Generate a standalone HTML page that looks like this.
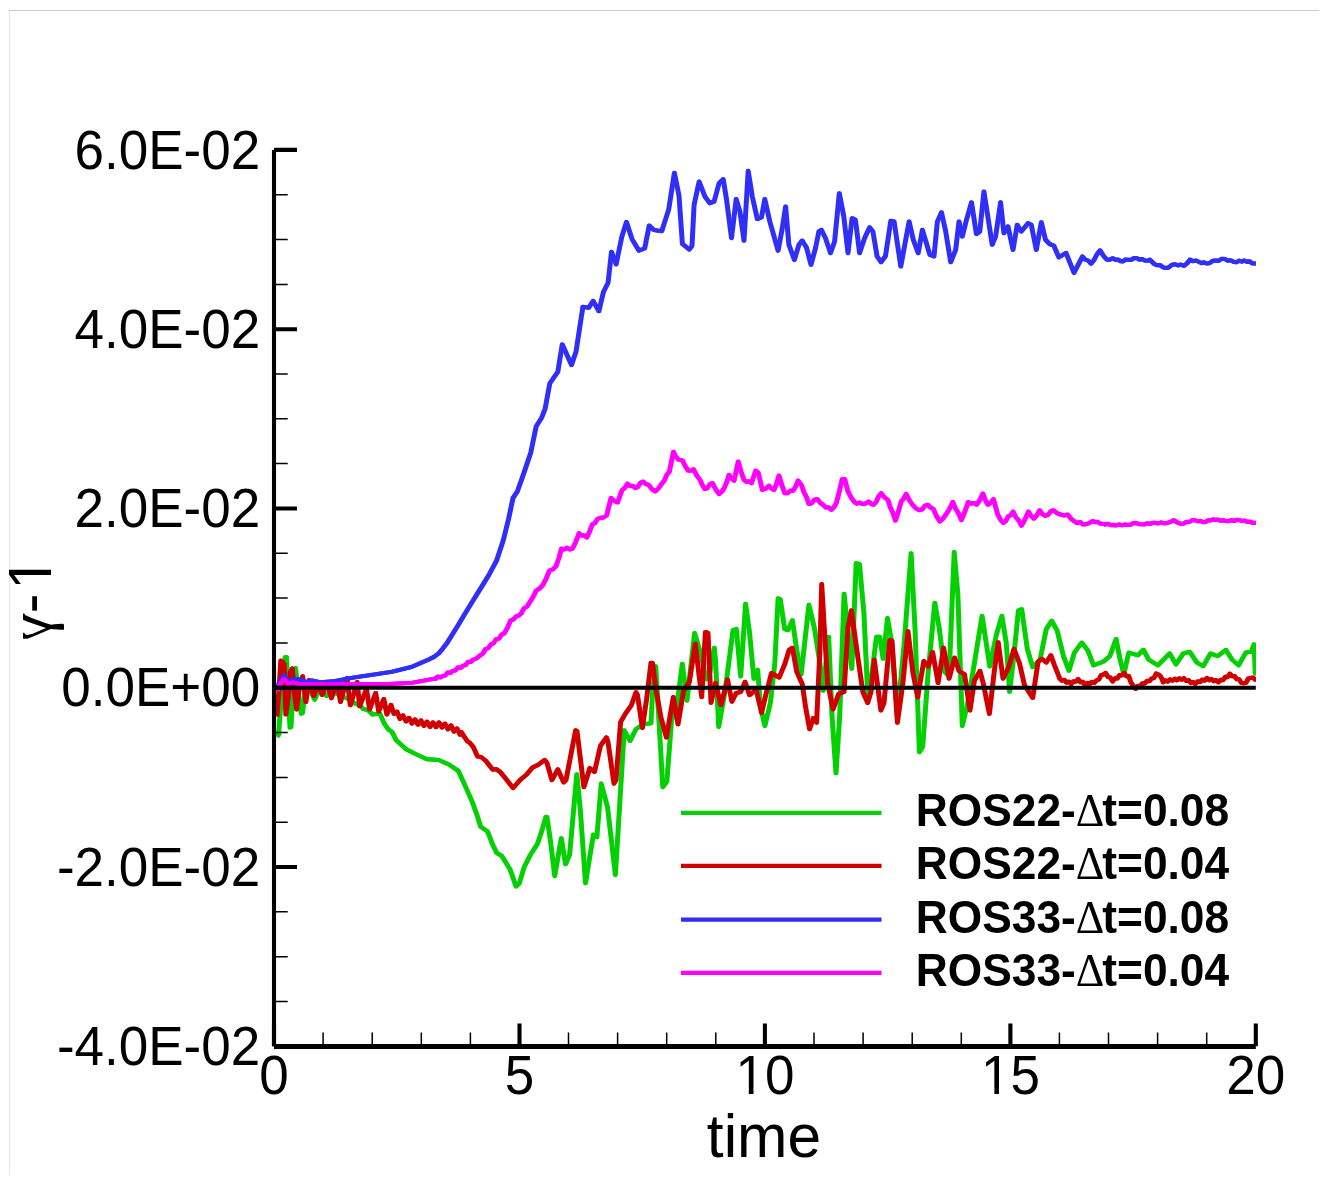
<!DOCTYPE html>
<html><head><meta charset="utf-8"><title>plot</title>
<style>
html,body{margin:0;padding:0;background:#fff;}
body{width:1323px;height:1181px;overflow:hidden;position:relative;}
svg{position:absolute;left:0;top:0;display:block;}
text{font-family:"Liberation Sans",sans-serif;fill:#000;}
.tk{font-size:53px;}
.ttl{font-size:60.5px;}
.lg{font-size:44.3px;font-weight:bold;}
.lg .d{font-weight:normal;font-family:"Liberation Serif","DejaVu Serif",serif;}
.gm{font-family:"Liberation Serif","DejaVu Serif",serif;}
.c{fill:none;stroke-width:4.1;stroke-linejoin:round;stroke-linecap:butt;}
</style></head><body>
<svg width="1323" height="1181" viewBox="0 0 1323 1181">
<rect x="0" y="0" width="1323" height="1181" fill="#fff"/>
<rect x="9" y="10" width="1" height="1165" fill="#e6e6e6"/><rect x="9" y="10" width="1310" height="1" fill="#c9c9c9"/>
<clipPath id="cp"><rect x="274" y="100" width="981.9" height="1000"/></clipPath>
<g clip-path="url(#cp)">
<polyline id="cg" class="c" stroke="#04d004" transform="translate(-0.45,0)" points="277.3,737 278.5,735 282,690 285.3,657 286.5,657 288,690 290,727.6 291,727 293,690 295.5,668 298,690 301.2,713.6 302.5,713 305,692 308,683 311,692 314.7,699.6 318,692 322,690 326.8,696 332,692 338,694 344,697 350,700 356,704 360,705 363.2,709 368,710 372.5,714.5 376,714 380,713.8 384,723 388.1,729.1 392,732 396.3,740.3 406.4,749.4 416.6,754.5 426.7,759.1 438.9,760 449.1,764.6 458.2,770.7 465.3,786 472.4,802.2 477.5,816.4 480.6,826.6 487.7,831.7 492.8,844.9 496.8,853 501.9,856.1 510,869.3 516.1,886.5 519.2,883.5 524.2,867.2 530.3,855 537.5,843.9 542.5,828.6 545.9,816.8 547,817 550.7,842.9 554.7,876.1 561.3,838.2 565.6,864.3 569.6,854.8 576.8,774.2 580.3,809.7 585.5,883.2 593.4,834.6 596.9,837 601.2,783.6 607.6,807.4 615.4,874.9 619.4,809.7 624.2,730.3 630.1,740.9 636,729.1 643.2,724.3 651,723.2 652.6,691.1 655.7,666.2 658.6,714.9 662.8,787.2 666.9,781.3 671.6,719.6 676.4,710.1 682.3,663.9 687,700.6 694.6,633 701.3,655.6 706,679.3 710,672 714.3,647.8 715.5,660 718.7,727 725.3,689.6 733,630.2 736.3,629.1 740.7,676.4 745.6,603.8 749.5,632.4 753.9,678.6 757.7,669.8 760.5,707.2 764.9,725.9 770.4,702.8 774.8,663.2 778.1,598.3 780.3,599.4 784.7,629.1 788,630.2 792.4,620.3 796.8,650 801.2,674.2 808.9,604.9 814.4,628 819.9,663.2 823.2,690.7 828.7,636.8 832,716 836,773.3 839.7,716 844.1,593.9 851.8,668.7 856.2,563.1 859.5,564.2 863.9,612.6 867.7,694 872.1,672 876.5,636.8 879.8,636.8 883.1,658.8 887.5,618.1 891.9,643.4 897.4,716 904,645.6 911.1,553.2 915,628 919.4,752.3 922.7,746.8 928.2,672 934.8,602.7 939.2,628 944.7,672 949.1,676.4 954.2,552.1 957.9,595 962.3,725.9 967.8,702.8 974.4,663.2 982.1,615.9 989.8,666.5 996.4,634.6 1001.9,615.9 1006.3,643.4 1009.6,691.8 1014,654.4 1018.4,610.4 1021.7,609.3 1027.3,648.9 1032.7,667.1 1040,659.8 1046.3,629 1051.7,620.8 1057.2,630.8 1063.5,656.2 1069,670.7 1074.4,652.6 1081.7,642.6 1088,650.7 1093.5,665.3 1103.4,661.6 1109.8,656.2 1116.1,639 1119.8,658 1123.8,674.3 1128.8,652.6 1137.9,655.3 1143.4,649.8 1148.8,659.8 1157.9,665.3 1169.7,653.5 1176,664.4 1183.3,653.5 1189.6,651.7 1196.9,662.5 1203.2,666.2 1210.5,653.5 1217.7,656.2 1225.9,649.8 1232.2,659.8 1238.6,665.3 1245.9,652.6 1251.3,651.7 1254,644.4 1255.3,673.4 1258,673.4"/>
<use href="#cg" x="0.9" y="0"/>
<polyline id="cr" class="c" stroke="#d00000" transform="translate(-0.45,0)" points="277,716.4 279,690 280.8,660.5 282.6,662 284.2,664 285.8,714.5 288,700 290.2,672 292.4,668.4 294,690 296.6,709.4 299,690 302.6,676.3 305.9,702 309.1,680 313.8,696 318,683 322.2,695 327,683 331.5,698.2 337,681 340.5,702 347,678 350.3,705.3 357.2,682 359.6,706.3 366.5,689 369.6,709.4 375.7,693 378.7,711.4 383.8,699 386.9,714.5 391,705 394,713.9 397,711.6 400,718.9 403,715.4 406,721.4 409,717.8 412,723.5 415,719.3 418,724.7 421,720.5 424,725.9 427,721.7 430,727 433,722.4 436,727.2 439,722.4 442,727.5 445,723.6 448,729.3 451,725.4 454,731.6 457,728.4 460,734.6 461.3,732.1 467.4,741.3 470,743 473.5,747.4 477.5,756.5 481,757 485.6,760.6 492.8,769.7 496,769 499.9,771.7 506,778.9 513.1,788 520.2,779.9 526.3,774.8 532.4,767.7 538.5,764.6 544.7,759.9 547,763 551.9,780.1 557.8,769.4 563.7,782.4 566,780 575.6,730.3 577,731 583.9,787.2 589.8,768.2 594.5,771.8 600.5,745.7 606.4,737.4 608,742 614,783.6 616,780 620.6,722 625.4,713.7 631.3,705.4 636,692.3 637.5,695 642.4,727.9 646.7,698.3 651,662.7 652.5,663 656.2,691.1 660.9,717.2 666.4,737.4 673.3,697.1 678,724.3 683.5,691.1 689.4,681.7 695.3,643.7 701.7,697.1 705.4,632 708,633 711,702.8 715.4,683 720.9,705 727.5,679.7 731.9,701.7 736.3,692.9 740.7,692 745.1,681.9 749.5,695.1 756.1,689.6 761.6,712.7 766,694 771.5,673.1 779.2,677.5 784.7,664.3 789.1,650 792.4,647.8 796.8,672 802.3,684.1 805.6,707.2 809.6,729.2 813.3,718.2 816.6,722.6 819.9,650 821.7,584 824.3,628 827.6,683 833.1,709.4 838.6,694 844.1,691.8 847.9,628 851.4,610.4 856.2,645.6 862.8,691.8 867.7,702.8 871,692 874.3,659.9 880.9,710.5 884,703 889.7,640.1 892,641 897.4,722.6 902.9,683 908,631.3 912.8,672 917.7,697.3 923.8,661 928.2,666.5 932.6,652.2 938.1,683 943.6,647.8 949.1,678.6 954.6,657.7 959,670.9 964.5,674.2 970,710.5 974.4,680.8 979.9,670.9 983.2,683 989.4,713.8 994.2,672 998.2,642.3 1003,678.6 1008.5,667.6 1014,648.9 1019.5,663.2 1024.5,685.2 1032.7,697.9 1038.1,661.6 1041.8,658.9 1046.3,662.5 1050.8,655.3 1054.5,665.3 1059.9,678.9 1062,680.7 1064.3,679.8 1066.6,682.6 1068.9,681.7 1071.2,684.1 1073.5,681.2 1075.8,681.8 1078.1,679 1080.4,682.2 1082.7,681.8 1085,685 1087.3,682.9 1089.6,684.1 1091.9,681.8 1094.2,683 1096.5,680.4 1098.8,679.6 1101.1,675.3 1103.4,674.5 1105.7,672.9 1108,677 1110.3,677.6 1112.6,681.5 1114.9,678.2 1117.2,678.5 1119.5,675.1 1121.8,675.4 1124.1,673 1126.4,676.3 1128.7,676 1131,682.6 1133.3,685.8 1135.6,688.9 1137.9,685.8 1140.2,686.3 1142.5,683.2 1144.8,683.6 1147.1,680.7 1149.4,681.3 1151.7,678.4 1154,677.9 1156.3,673.5 1158.6,674.6 1160.9,676.7 1163.2,682.3 1165.5,680.3 1167.8,681.6 1170.1,679.4 1172.4,680.7 1174.7,678.7 1177,680.3 1179.3,678.3 1181.6,679.9 1183.9,678.2 1186.2,681 1188.5,680.1 1190.8,682.9 1193.1,682 1195.4,683.9 1197.7,681.3 1200,682.2 1202.3,679.6 1204.6,680.6 1206.9,678 1209.2,680.3 1211.5,679 1213.8,681.3 1216.1,680 1218.4,682.3 1220.7,679.9 1223,680.2 1225.3,676.8 1227.6,677.1 1229.9,673.7 1232.2,676.3 1234.5,676 1236.8,679.2 1239.1,679.2 1241.4,683 1243.7,683.1 1246,682.9 1248.3,678.5 1250.6,678 1252.9,677.5 1255.3,679.8 1258,679.8"/>
<use href="#cr" x="0.9" y="0"/>
<polyline id="cb" class="c" stroke="#2f2ff8" transform="translate(-0.45,0)" points="277.5,686 280,682 284,675.4 288.6,682 294.2,679 300,679.5 307.3,682.4 312,680.5 321.2,682.4 335.2,681 353.9,677.5 372.5,674.8 392,671.8 412.3,666.7 428.5,659.6 434,656.8 438.7,653.3 442.8,648.6 446.8,643.3 457,627 469.2,606.7 480,589.4 488.8,575.1 496.5,560.8 503.1,540.9 508.6,518.9 513,498 517.4,491.4 524,472.7 530.7,452.9 536.2,426.4 541.5,418 545.2,408.4 549.8,383.3 557.8,371.8 562.3,344.4 571.5,365 576.1,351.3 582.9,306.7 588.6,307.8 593.2,300.9 598.9,311.2 603.5,291.8 608.1,282.6 611.5,251.8 616.1,264.3 621.8,236.9 626.4,222 632.1,239.2 638.9,250.6 644.7,248.3 649.2,225.5 653.8,230 661.8,231.2 668.7,209.5 674.4,172.9 679,195.7 682.4,243.8 689.3,249.5 692,246 694.1,204.9 699.1,181.6 704.9,196.6 709.9,203.2 714.1,201.5 719.1,183.3 723.2,179.1 726.6,199.9 731.5,238.1 736.2,199.1 739.9,211.5 744,240.6 748.2,170.8 752.3,196.6 757.3,219 761.5,217.3 764.8,199.1 769.8,221.5 778.1,250.6 782.3,228.2 785.6,206.5 788.9,244.8 794.4,259.8 798.9,244.8 802.2,240.6 806.4,247.3 811,264.7 815.5,248.1 818.9,231.5 821.3,229.8 825.5,238.1 830.5,253.1 834.6,241.5 839.3,193.2 843.8,216.5 848,253.1 852.1,218.2 855.4,219.8 859.6,253.1 864.6,238.1 869.6,227.3 872.9,231.5 877.1,256.4 881.2,262.2 885.5,256 890.8,220.7 894.1,221.5 900.8,266.4 909.1,221.5 913.3,239.8 918.2,253.1 922.4,229.8 929.9,254.8 934,256.4 937.4,221.5 941.5,212.4 945.7,231.5 950.7,262.2 955.7,249.8 959,221.5 962.3,236.5 966.5,219.8 971.5,202.4 976.4,234 979.8,231.5 983.9,191.6 988.1,218.2 992.2,244.8 995.6,236.5 1000.6,202.4 1003.9,233.1 1008,226.5 1013,249.8 1017.2,224.8 1021.3,231.5 1028,223.2 1031.3,224.8 1036.3,249.8 1041.3,222.3 1045.5,239.8 1049.6,244 1053.8,245.6 1058.8,257.3 1066,252.9 1074,272.8 1082.5,256.5 1085.3,259.6 1088.2,260.6 1091,263.7 1094,260 1097.1,254.1 1100.1,250.4 1103.5,255.8 1106.9,259.7 1109.9,259.6 1112.9,258.2 1115.4,259.9 1118,259.5 1120.5,261.2 1123,261.4 1125.5,259.5 1128,259.7 1131,259.9 1134.1,258 1137.1,258.2 1139.6,259.7 1142.2,259 1144.7,260.5 1147.3,260.8 1149.9,259.7 1154.5,264.2 1157.2,265.3 1159.8,265 1162.8,267.2 1165.8,268 1168.8,267.4 1171.9,264.8 1174.9,264.2 1177.9,265.4 1181,264.6 1184,265.8 1187,263.4 1190,259.7 1193,261.2 1196.1,260.5 1199.1,262 1201.6,263.2 1204.1,262.3 1206.6,263.5 1209.6,263.2 1212.7,260.8 1215.7,260.5 1218.7,260.7 1221.8,258.8 1224.8,259 1227.8,260.7 1230.8,260.3 1233.8,262 1236.5,262.3 1239.1,260.6 1241.8,261.6 1244.4,260.5 1247.1,261.9 1249.7,261.3 1252.3,263.4 1255,263.5 1258,263.5"/>
<use href="#cb" x="0.9" y="0"/>
<polyline id="cm" class="c" stroke="#ff00ff" transform="translate(-0.45,0)" points="277.2,691 280.2,683.8 284,679.1 288.6,683.8 293,682.5 298,684.3 351.3,684.4 392,683.8 412.3,682.8 432.6,678.9 435.2,679 437.7,676.5 440.2,677.5 442.8,675.9 445.3,675.5 447.9,672.4 450.4,673 452.9,670.8 455.4,670.4 458,667.4 460.6,667.9 463.1,665.7 465.7,665.1 468.2,661.8 470.8,662 473.3,659.6 476.6,658.4 480,655.5 482.8,653.6 485.5,649.1 488.2,648.1 491,644.4 493.6,643.1 496.3,639.1 498.9,638.7 501.6,634.7 504.2,633.4 507.5,627.7 510.8,620.2 513.4,619.6 515.9,616.4 518.5,615.8 521.2,613.4 524,608.3 526.8,606.8 529.5,602.6 532.9,597.4 536.2,590.5 539.5,588.6 542.8,585 546.1,578.8 549.4,570.7 552.7,569.4 556,566.3 558.8,558.4 561.5,548.6 564.2,549.5 567,547.7 569.8,549.5 572.5,548.6 575.8,541.8 579.1,533.2 581.7,535.6 584.2,535.2 586.8,537.6 589.5,531.9 592.3,524.4 594.9,523.1 597.4,519.1 600,517.8 603.3,517.6 606.6,515.6 611,498 614.3,501.1 617.6,502.4 622,490.3 624.8,487.9 627.5,483.7 630.1,486.1 632.7,485.7 635.3,488.1 637.9,486.8 640.4,482.8 643,481.5 645.8,484 648.5,484.8 651.8,489 655.1,491.4 658.4,488.4 661.7,483.7 664.3,480.6 666.8,474.7 669.4,471.6 673.4,451.8 675.8,456.5 678.2,459.5 682.6,460.6 685.4,466.4 688.1,470.5 690.9,470.8 693.6,469.4 696.8,475.5 700,479.9 702.5,485.3 705,489 707.5,488 709.9,484.2 712.4,483.2 715.8,489.5 719.1,494 721.6,492 724.1,488.2 726.6,482.4 729.1,474.9 731.6,478.7 734.1,480.7 738.2,461.6 741.1,471.6 744,479.9 746.5,481.9 749,481.2 751.5,483.2 755.7,470.7 758.2,472.4 762.3,489.9 765.6,488.7 769,485.7 771.5,488.7 774,489.9 776.5,483.7 779,475.7 781.9,485.3 784.8,493.2 787.6,493.3 790.3,490.6 793.1,490.7 795.6,486.6 798.1,480.7 801.4,484.9 803.9,492.2 806.4,496.7 808.9,504 811.7,503.2 814.4,499.8 817.2,499 820.1,502.8 823,504.8 825.8,507.4 828.5,507.2 831.3,509.8 833.8,507.4 836.3,503.2 839.2,492 842.2,479.1 844.7,479.1 848,491.5 851.3,497.8 854.6,502.3 857.1,503.8 859.6,502.5 862.1,504 865.5,503.6 868.8,501.5 871.2,504 873.7,504.8 876.2,501.8 878.7,496.2 881.2,493.2 884.5,497.4 887.9,499.8 890.4,507.6 892.9,512.8 895.4,520.6 898.3,511.9 901.2,501.5 903.7,498.6 906.2,494 909.3,500.2 912.4,504.7 915.9,508.4 919.4,510.3 922.2,509.3 925,505.7 927.8,504.7 930.5,507.7 933.3,508.9 936.5,516.1 939.8,521.5 942.8,518.9 945.9,514.5 949.4,509.1 952.9,502 955.7,508.9 958.5,513.2 961.3,520.1 964.8,511.9 968.3,502 971.1,503.8 973.9,502.9 976.7,504.7 979.8,500 982.8,493.6 985.3,500 987.9,504.7 990.7,502.8 993.5,499.2 997.7,514.5 1000.5,519.6 1003.3,522.9 1005.8,521 1008.2,516.4 1010.6,515.4 1013.1,511.7 1015.9,517.3 1018.6,520.1 1021.4,525.7 1024.9,519.6 1028.4,511.7 1031.2,516.1 1034,518.7 1036.8,515.4 1039.6,510.3 1042.4,514 1045.2,515.9 1048,514.9 1050.8,511.3 1053.6,510.3 1057.1,513.3 1060.6,514.5 1064.1,515.4 1067.6,514.5 1071.1,518.9 1074.6,521.5 1077.4,523.1 1080.2,522 1083,524.5 1085.8,524.3 1089.3,523.1 1092.8,521 1095.2,522.2 1097.7,521.9 1100.1,523.6 1102.5,523.8 1105.3,524.6 1108.1,523.8 1110.9,525.1 1113.7,524.9 1116.5,525.4 1119.3,524.4 1122.1,525.4 1124.9,524.4 1127.7,524.9 1130.5,524.7 1133.3,523.1 1136.1,522.9 1138.9,524.1 1141.7,524.3 1144.5,524.5 1147.3,523.2 1150.1,524 1152.9,522.7 1155.7,522.9 1158.5,523.4 1161.3,522.4 1164.1,523.4 1166.9,522.9 1170.4,522 1173.9,520.1 1177.4,522.5 1180.9,523.8 1183.7,523.6 1186.5,521.8 1189.2,522.1 1192,520.3 1194.8,520.1 1197.6,521.3 1200.4,520.9 1203.2,522.1 1205.7,521.9 1208.1,520.2 1210.5,520.5 1213,519.3 1215.5,520.1 1218,519.5 1220.6,520.8 1223.1,520.2 1225.6,521 1228.4,521.3 1231.2,520.1 1234,521 1236.8,519.8 1239.6,520.1 1242.2,521.1 1244.7,520.5 1247.3,522 1249.9,521.5 1252.4,522.9 1255,522.9 1258,522.9"/>
<use href="#cm" x="0.9" y="0"/>
</g>
<line x1="274.0" y1="687.7" x2="1255.8" y2="687.7" stroke="#000" stroke-width="4.1"/>
<line x1="274.0" y1="149.9" x2="274.0" y2="1046.3" stroke="#000" stroke-width="4.1"/>
<line x1="274.0" y1="1046.5" x2="1255.8" y2="1046.5" stroke="#000" stroke-width="4.8"/>
<path d="M274.0 149.9h23M274.0 329.2h23M274.0 508.5h23M274.0 687.7h23M274.0 867.0h23M274.0 1046.3h23M274.0 1046.3v-22.8M519.5 1046.3v-22.8M764.9 1046.3v-22.8M1010.4 1046.3v-22.8M1255.8 1046.3v-22.8" stroke="#000" stroke-width="4.1" fill="none"/>
<path d="M274.0 194.7h13.7M274.0 239.5h13.7M274.0 284.4h13.7M274.0 374.0h13.7M274.0 418.8h13.7M274.0 463.6h13.7M274.0 553.3h13.7M274.0 598.1h13.7M274.0 642.9h13.7M274.0 732.6h13.7M274.0 777.4h13.7M274.0 822.2h13.7M274.0 911.8h13.7M274.0 956.7h13.7M274.0 1001.5h13.7M323.1 1046.3v-13.8M372.2 1046.3v-13.8M421.3 1046.3v-13.8M470.4 1046.3v-13.8M568.5 1046.3v-13.8M617.6 1046.3v-13.8M666.7 1046.3v-13.8M715.8 1046.3v-13.8M814.0 1046.3v-13.8M863.1 1046.3v-13.8M912.2 1046.3v-13.8M961.3 1046.3v-13.8M1059.4 1046.3v-13.8M1108.5 1046.3v-13.8M1157.6 1046.3v-13.8M1206.7 1046.3v-13.8" stroke="#000" stroke-width="1.5" fill="none"/>
<text class="tk" transform="translate(260.2,168.5) scale(1,1.062)" text-anchor="end">6.0E-02</text>
<text class="tk" transform="translate(260.2,347.8) scale(1,1.062)" text-anchor="end">4.0E-02</text>
<text class="tk" transform="translate(260.2,527.1) scale(1,1.062)" text-anchor="end">2.0E-02</text>
<text class="tk" transform="translate(260.2,706.3) scale(1,1.062)" text-anchor="end">0.0E+00</text>
<text class="tk" transform="translate(260.2,885.6) scale(1,1.062)" text-anchor="end">-2.0E-02</text>
<text class="tk" transform="translate(260.2,1064.9) scale(1,1.062)" text-anchor="end">-4.0E-02</text>
<text class="tk" transform="translate(274.0,1093.9) scale(1,1.062)" text-anchor="middle">0</text>
<text class="tk" transform="translate(519.5,1093.9) scale(1,1.062)" text-anchor="middle">5</text>
<text class="tk" transform="translate(764.9,1093.9) scale(1,1.062)" text-anchor="middle">10</text>
<text class="tk" transform="translate(1010.4,1093.9) scale(1,1.062)" text-anchor="middle">15</text>
<text class="tk" transform="translate(1255.8,1093.9) scale(1,1.062)" text-anchor="middle">20</text>
<g transform="translate(51.2,638.2) rotate(-90)"><text class="ttl gm" transform="translate(24.8,0) scale(-1,1)" x="0" y="0">γ</text><text class="ttl" style="font-size:59px" transform="scale(1,1.04)"><tspan x="24.9">-</tspan><tspan x="48.5">1</tspan></text></g>
<path d="M738 1088.8h10.8v6.4h-10.8zM753.5 1088.8h10.5v6.4h-10.5zM983 1088.8h11.35v6.4h-11.35zM999 1088.8h10.5v6.4h-10.5zM45.5 557.5h6.7v12.25h-6.7zM45.5 575h6.7v12h-6.7z" fill="#fff"/>
<text class="ttl" x="764" y="1157.3" text-anchor="middle">time</text>
<line x1="681" y1="812.9" x2="881.5" y2="812.9" stroke="#04d004" stroke-width="4.2"/>
<text class="lg" transform="translate(915.8,826) scale(1,1.035)">ROS22-<tspan class="d">Δ</tspan><tspan dx="-2">t=0.08</tspan></text>
<line x1="681" y1="865.9" x2="881.5" y2="865.9" stroke="#d00000" stroke-width="4.2"/>
<text class="lg" transform="translate(915.8,879.1) scale(1,1.035)">ROS22-<tspan class="d">Δ</tspan><tspan dx="-2">t=0.04</tspan></text>
<line x1="681" y1="919.6" x2="881.5" y2="919.6" stroke="#2f2ff8" stroke-width="4.2"/>
<text class="lg" transform="translate(915.8,932.5) scale(1,1.035)">ROS33-<tspan class="d">Δ</tspan><tspan dx="-2">t=0.08</tspan></text>
<line x1="681" y1="972.8" x2="881.5" y2="972.8" stroke="#ff00ff" stroke-width="4.2"/>
<text class="lg" transform="translate(915.8,985.7) scale(1,1.035)">ROS33-<tspan class="d">Δ</tspan><tspan dx="-2">t=0.04</tspan></text>
</svg></body></html>
